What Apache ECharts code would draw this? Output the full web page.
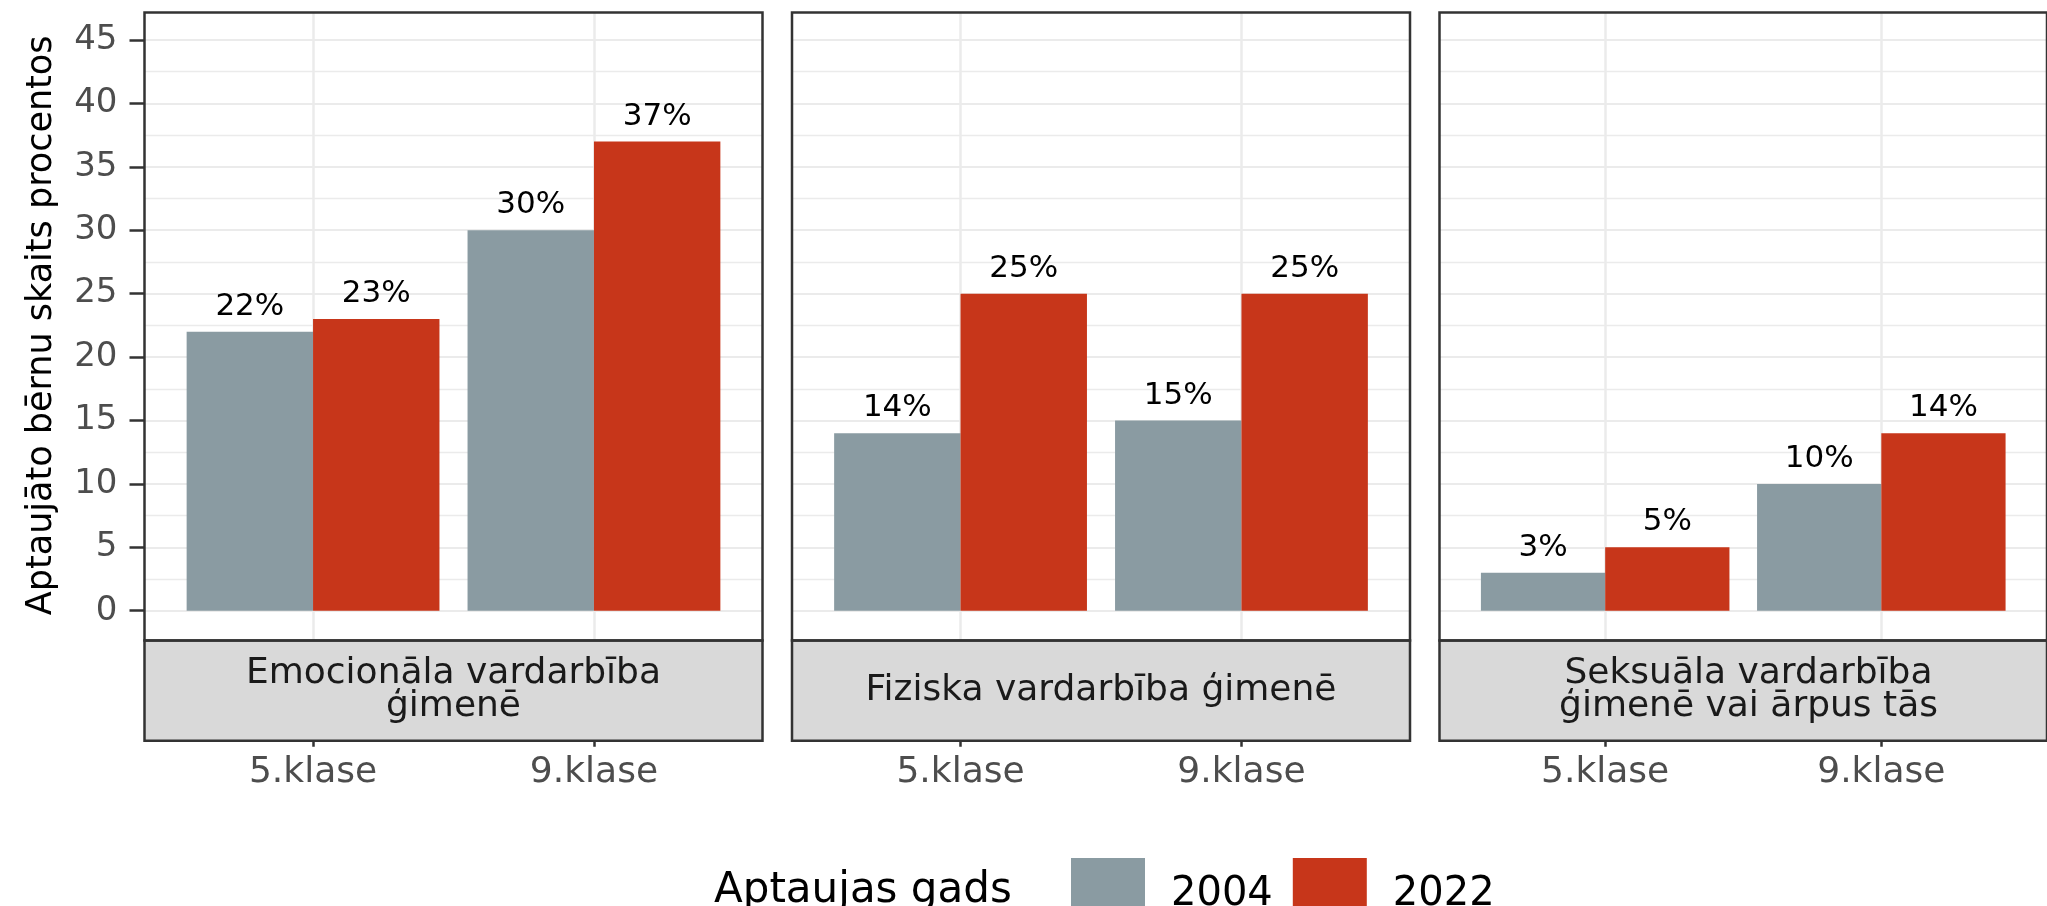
<!DOCTYPE html>
<html><head><meta charset="utf-8">
<script src="https://cdn.jsdelivr.net/npm/echarts@6/dist/echarts.min.js"></script>
<style>html,body{margin:0;padding:0;background:#fff}#c{width:2047px;height:906px}</style>
</head><body><div id="c"></div>
<script>
// ---- data ----
const facets = ['Emocionāla vardarbība\nģimenē', 'Fiziska vardarbība ģimenē', 'Seksuāla vardarbība\nģimenē vai ārpus tās'];
const classes = ['5.klase', '9.klase'];
const years = ['2004', '2022'];
const values2004 = [[22, 30], [14, 15], [3, 10]];
const values2022 = [[23, 37], [25, 25], [5, 14]];
const yTicks = [0, 5, 10, 15, 20, 25, 30, 35, 40, 45];
const yTitle = 'Aptaujāto bērnu skaits procentos';
const legendTitle = 'Aptaujas gads';

// ---- style / layout ----
const FONT = '"DejaVu Sans", sans-serif';
const colors = ['#8A9BA2', '#C7361A'];
const seriesValues = [values2004, values2022];
const PANEL_LEFT = [144.5, 792, 1439.5];
const PANEL_W = 618;
const FRAME_TOP = 12.5, PLOT_BOTTOM = 640.5;
const Y_TOP = 40, Y_ZERO = 610.7;
const STRIP_BOTTOM = 740.7;
const XMIN = 0.4, XMAX = 2.6, DODGE = 0.45, LABEL_GAP = 25;
const GRID = '#EBEBEB', BORDER = '#333333';
const xTickValues = classes.map((c, i) => i + 1);

const grids = [], xAxes = [], yAxes = [], series = [], graphics = [];
facets.forEach((f, p) => {
  const L = PANEL_LEFT[p];
  const base = grids.length;
  // data grid
  grids.push({left: L, top: Y_TOP, width: PANEL_W, height: Y_ZERO - Y_TOP});
  // frame grid
  grids.push({left: L, top: FRAME_TOP, width: PANEL_W, height: PLOT_BOTTOM - FRAME_TOP,
    show: true, backgroundColor: 'transparent', borderColor: BORDER, borderWidth: 2.5, z: 5});
  // strip grid
  grids.push({left: L, top: PLOT_BOTTOM, width: PANEL_W, height: STRIP_BOTTOM - PLOT_BOTTOM,
    show: true, backgroundColor: '#D9D9D9', borderColor: BORDER, borderWidth: 2.5, z: 1});

  xAxes.push({type: 'value', gridIndex: base, min: XMIN, max: XMAX, show: false});
  xAxes.push({type: 'value', gridIndex: base + 1, min: XMIN, max: XMAX,
    axisLine: {show: false}, axisLabel: {show: false},
    axisTick: {show: false, customValues: xTickValues},
    splitLine: {show: true, lineStyle: {color: GRID, width: 2.5}}});
  xAxes.push({type: 'value', gridIndex: base + 2, min: XMIN, max: XMAX, position: 'bottom',
    axisLine: {show: false},
    axisTick: {show: true, customValues: xTickValues, length: 6, lineStyle: {color: BORDER, width: 2.5}},
    axisLabel: {customValues: xTickValues, formatter: v => classes[Math.round(v) - 1],
      margin: 14, fontSize: 36, fontFamily: FONT, color: '#4D4D4D'},
    splitLine: {show: false}});

  yAxes.push({type: 'value', gridIndex: base, min: yTicks[0], max: yTicks[yTicks.length - 1],
    interval: yTicks[1] - yTicks[0],
    name: p === 0 ? yTitle : '', nameLocation: 'middle', nameGap: 85,
    nameTextStyle: {fontSize: 35, fontFamily: FONT, color: '#000'},
    axisLine: {show: false},
    axisTick: {show: p === 0, length: 15, lineStyle: {color: BORDER, width: 2.5}},
    axisLabel: {show: p === 0, margin: 27, fontSize: 34, fontFamily: FONT, color: '#4D4D4D'},
    splitLine: {show: true, lineStyle: {color: GRID, width: 2}},
    minorTick: {show: false, splitNumber: 2},
    minorSplitLine: {show: true, lineStyle: {color: GRID, width: 1.3}}});
  yAxes.push({type: 'value', gridIndex: base + 1, min: 0, max: 1, show: false});
  yAxes.push({type: 'value', gridIndex: base + 2, min: 0, max: 1, show: false});

  years.forEach((yr, k) => {
    series.push({
      type: 'custom', name: yr, coordinateSystem: 'cartesian2d',
      xAxisIndex: base, yAxisIndex: base, z: 3,
      itemStyle: {color: colors[k]},
      encode: {x: 0, y: 1},
      data: classes.map((c, i) => [i + 1, seriesValues[k][p][i]]),
      renderItem: function (params, api) {
        const x = api.value(0), v = api.value(1);
        const xl = x - DODGE + k * DODGE;
        const p0 = api.coord([xl, v]);
        const p1 = api.coord([xl + DODGE, 0]);
        return {type: 'group', children: [
          {type: 'rect', shape: {x: p0[0], y: p0[1], width: p1[0] - p0[0], height: p1[1] - p0[1]},
            style: {fill: api.visual('color')}},
          {type: 'text', style: {text: v + '%', x: (p0[0] + p1[0]) / 2, y: p0[1] - LABEL_GAP,
            align: 'center', verticalAlign: 'middle', fontSize: 31, fontFamily: FONT, fill: '#000'}}
        ]};
      }
    });
  });

  graphics.push({type: 'text', z: 20, silent: true,
    style: {text: f, x: L + PANEL_W / 2, y: (PLOT_BOTTOM + STRIP_BOTTOM) / 2,
      align: 'center', verticalAlign: 'middle', fontSize: 36, lineHeight: 33,
      fontFamily: FONT, fill: '#1A1A1A'}});
});

graphics.push({type: 'text', z: 20, silent: true,
  style: {text: legendTitle, x: 714, y: 891, align: 'left', verticalAlign: 'middle',
    fontSize: 42, fontFamily: FONT, fill: '#000'}});

const chart = echarts.init(document.getElementById('c'), null, {renderer: 'canvas'});
chart.setOption({
  backgroundColor: '#fff',
  animation: false,
  grid: grids, xAxis: xAxes, yAxis: yAxes, series: series,
  legend: {data: years, left: 1066, top: 853, orient: 'horizontal', icon: 'rect',
    itemWidth: 74, itemHeight: 74, itemGap: 20, selectedMode: false,
    textStyle: {fontSize: 40, fontFamily: FONT, color: '#000', padding: [0, 0, 14, 21]}},
  graphic: graphics
});
</script></body></html>
